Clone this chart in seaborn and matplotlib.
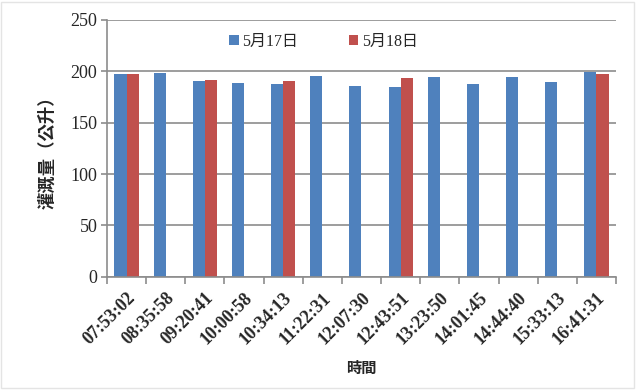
import numpy as np
import pandas as pd
import seaborn as sns
import matplotlib.pyplot as plt
from matplotlib.patches import Rectangle
from matplotlib.ticker import MultipleLocator, FixedLocator

times = ['07:53:02', '08:35:58', '09:20:41', '10:00:58', '10:34:13', '11:22:31',
         '12:07:30', '12:43:51', '13:23:50', '14:01:45', '14:44:40', '15:33:13',
         '16:41:31']
may17 = [197, 198, 191, 189, 188, 195, 186, 185, 194, 188, 194, 190, 199]
may18 = [197, np.nan, 192, np.nan, 191, np.nan, np.nan, 193, np.nan, np.nan,
         np.nan, np.nan, 197]
series_names = ['5月17日', '5月18日']
colors = ['#4F81BD', '#C0504D']

df = pd.DataFrame({'time': times, series_names[0]: may17, series_names[1]: may18})
long = df.melt(id_vars='time', var_name='day', value_name='amount')

sns.set_style('white')
plt.rcParams['font.family'] = ['Liberation Serif', 'Noto Sans CJK TC']

fig = plt.figure(figsize=(6.37, 3.90), dpi=100)
ax = fig.add_axes([0.168, 0.290, 0.799, 0.659])

sns.barplot(data=long, x='time', y='amount', hue='day', order=times,
            hue_order=series_names, palette=colors, width=0.62, gap=0,
            saturation=1, errorbar=None, linewidth=0, ax=ax)

ax.set_ylim(0, 250)
ax.set_xlim(-0.5, len(times) - 0.5)
ax.yaxis.set_major_locator(MultipleLocator(50))
ax.grid(axis='y', color='#8c8c8c', linewidth=1.2)
ax.set_axisbelow(True)
for s in ['top', 'right']:
    ax.spines[s].set_visible(False)
for s in ['left', 'bottom']:
    ax.spines[s].set_color('#8c8c8c')
    ax.spines[s].set_linewidth(1.2)

# category boundaries get the tick marks, labels stay centred
ax.xaxis.set_minor_locator(FixedLocator(np.arange(-0.5, len(times), 1)))
ax.tick_params(axis='x', which='major', length=0, pad=9)
ax.tick_params(axis='x', which='minor', length=5, width=1.2, color='#8c8c8c',
               direction='out', bottom=True)
ax.tick_params(axis='y', length=4, width=1.2, color='#8c8c8c', direction='out',
               left=True, labelsize=13, pad=3)
ax.set_xticks(range(len(times)))
ax.set_xticklabels(times, rotation=45, ha='right', rotation_mode='anchor',
                   fontsize=13, fontweight='bold')

ax.set_xlabel('時間', fontsize=11, fontweight='bold', labelpad=10)
ax.set_ylabel('灌溉量（公升）', fontsize=12.5, fontweight='bold', labelpad=10)

leg = ax.legend(loc='center', bbox_to_anchor=(0.425, 0.914), ncol=2, frameon=False,
                fontsize=11.5, handlelength=0.6, handleheight=0.6, handletextpad=0.2,
                columnspacing=3.2)

fig.patches.append(Rectangle((0.002, 0.006), 0.993, 0.99, transform=fig.transFigure,
                             fill=False, edgecolor='#e4e4e4', linewidth=1))

fig.savefig('out.png', dpi=100, facecolor='white')
